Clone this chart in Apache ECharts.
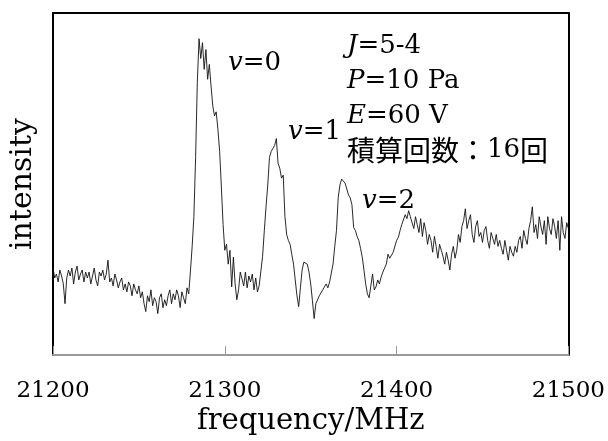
<!DOCTYPE html>
<html>
<head>
<meta charset="utf-8">
<script src="https://cdn.jsdelivr.net/npm/echarts@6/dist/echarts.min.js"></script>
<style>
html,body{margin:0;padding:0;background:#fff;}
#chart{width:608px;height:441px;}
</style>
</head>
<body>
<div id="chart"></div>
<script>
// frequency grid (MHz)
const freqStart = 21200;
const freqStep = 1;
// intensity (arbitrary units), one per MHz from 21200 to 21500
const intensity = [
  88, 78, 82, 74, 86, 80, 72, 52, 78, 86,
  80, 88, 72, 84, 90, 76, 82, 86, 74, 84,
  78, 84, 72, 80, 88, 76, 70, 84, 80, 86,
  76, 82, 96, 74, 78, 70, 82, 76, 68, 74,
  78, 66, 72, 64, 74, 70, 60, 72, 66, 62,
  70, 58, 64, 52, 44, 60, 54, 66, 50, 58,
  54, 42, 58, 62, 48, 56, 50, 60, 66, 52,
  62, 56, 66, 60, 48, 64, 58, 52, 68, 62,
  85, 110, 140, 200, 276, 320, 300, 316, 289, 309,
  279, 294, 272, 252, 242, 246, 228, 206, 170, 132,
  106, 112, 92, 106, 69, 99, 72, 56, 66, 84,
  86, 70, 84, 68, 80, 74, 82, 66, 78, 64,
  70, 72, 100, 126, 150, 172, 200, 206, 204, 212,
  219, 194, 189, 179, 182, 140, 122, 116, 112, 102,
  92, 76, 60, 49, 68, 86, 94, 92, 92, 84,
  72, 55, 37, 52, 50, 60, 58, 66, 64, 72,
  68, 74, 76, 92, 110, 126, 159, 172, 178, 176,
  174, 168, 162, 159, 152, 129, 126, 120, 116, 108,
  99, 86, 72, 62, 58, 70, 82, 66, 69, 76,
  72, 79, 84, 88, 92, 102, 98, 99, 104, 106,
  116, 119, 126, 132, 130, 142, 138, 146, 140, 139,
  128, 140, 132, 124, 138, 120, 134, 126, 112, 122,
  116, 104, 120, 110, 98, 112, 106, 100, 92, 104,
  96, 86, 102, 110, 98, 106, 122, 114, 130, 136,
  148, 128, 136, 142, 122, 114, 130, 136, 120, 124,
  114, 126, 130, 116, 108, 124, 118, 112, 122, 110,
  116, 108, 102, 116, 106, 96, 110, 104, 100, 110,
  104, 116, 120, 108, 126, 118, 112, 128, 136, 150,
  124, 132, 118, 140, 130, 122, 136, 112, 140, 128,
  122, 138, 130, 118, 136, 106, 140, 124, 118, 134,
  128
];
const xTicks = [21200, 21300, 21400, 21500];
const peakLabels = ['0', '1', '2'];
const infoLines = [
  ['J', '=5-4'],
  ['P', '=10 Pa'],
  ['E', '=60 V']
];
const countWords = ['積算回数', '：', '16', '回'];

const seriesData = intensity.map((v, i) => [freqStart + i * freqStep, v]);

const serif = '"DejaVu Serif", "Liberation Serif", serif';
const cjk = '"Noto Sans CJK JP", sans-serif';
const chart = echarts.init(document.getElementById('chart'), null, {renderer: 'canvas'});

function richText(it, rest, x, y) {
  return {
    type: 'text', left: x, top: y,
    style: {
      text: '{i|' + it + '}{n|' + rest + '}',
      rich: {
        i: {fontFamily: serif, fontStyle: 'italic', fontSize: 26, fill: '#000'},
        n: {fontFamily: serif, fontSize: 26, fill: '#000'}
      },
      fill: '#000'
    }
  };
}

const graphics = [
  richText('v', '=' + peakLabels[0], 228, 50),
  richText('v', '=' + peakLabels[1], 288, 119),
  richText('v', '=' + peakLabels[2], 362, 188),
  richText(infoLines[0][0], infoLines[0][1], 347, 33),
  richText(infoLines[1][0], infoLines[1][1], 347, 68),
  richText(infoLines[2][0], infoLines[2][1], 347, 103),
  {
    type: 'text', left: 347, top: 136,
    style: {
      text: '{c|' + countWords[0] + '}{c|' + countWords[1] + '}{d|' + countWords[2] + '}{c|' + countWords[3] + '}',
      rich: {
        c: {fontFamily: cjk, fontSize: 28, fill: '#000'},
        d: {fontFamily: serif, fontSize: 26, fill: '#000'}
      },
      fill: '#000'
    }
  }
];

chart.setOption({
  animation: false,
  backgroundColor: '#fff',
  grid: {left: 51, right: 38, top: 13, bottom: 82},
  xAxis: [{
    type: 'value', min: 21200, max: 21500, interval: 100, position: 'bottom',
    name: 'frequency/MHz', nameLocation: 'middle', nameGap: 47,
    nameTextStyle: {fontFamily: serif, fontSize: 29, color: '#000'},
    axisLine: {show: true, onZero: false, lineStyle: {color: '#999', width: 2}},
    axisTick: {show: true, inside: true, length: 9, lineStyle: {color: '#999', width: 1}},
    axisLabel: {show: true, margin: 24, fontFamily: serif, fontSize: 23, color: '#000',
      formatter: v => xTicks.indexOf(v) >= 0 ? String(v) : ''},
    splitLine: {show: false}
  }, {
    type: 'value', min: 21200, max: 21500, position: 'top',
    axisLine: {show: true, onZero: false, lineStyle: {color: '#000', width: 2}},
    axisTick: {show: false}, axisLabel: {show: false}, splitLine: {show: false}
  }],
  yAxis: [{
    type: 'value', min: 0, max: 346, position: 'left',
    name: 'intensity', nameLocation: 'middle', nameGap: 15, nameRotate: 90,
    nameTextStyle: {fontFamily: serif, fontSize: 30, color: '#000'},
    axisLine: {show: true, onZero: false, lineStyle: {color: '#000', width: 2}},
    axisTick: {show: false}, axisLabel: {show: false}, splitLine: {show: false}
  }, {
    type: 'value', min: 0, max: 346, position: 'right',
    axisLine: {show: true, onZero: false, lineStyle: {color: '#000', width: 2}},
    axisTick: {show: false}, axisLabel: {show: false}, splitLine: {show: false}
  }],
  series: [{
    type: 'line', data: seriesData, xAxisIndex: 0, yAxisIndex: 0,
    showSymbol: false, symbol: 'none',
    lineStyle: {color: '#111', width: 0.9}
  }],
  graphic: graphics
});
</script>
</body>
</html>
